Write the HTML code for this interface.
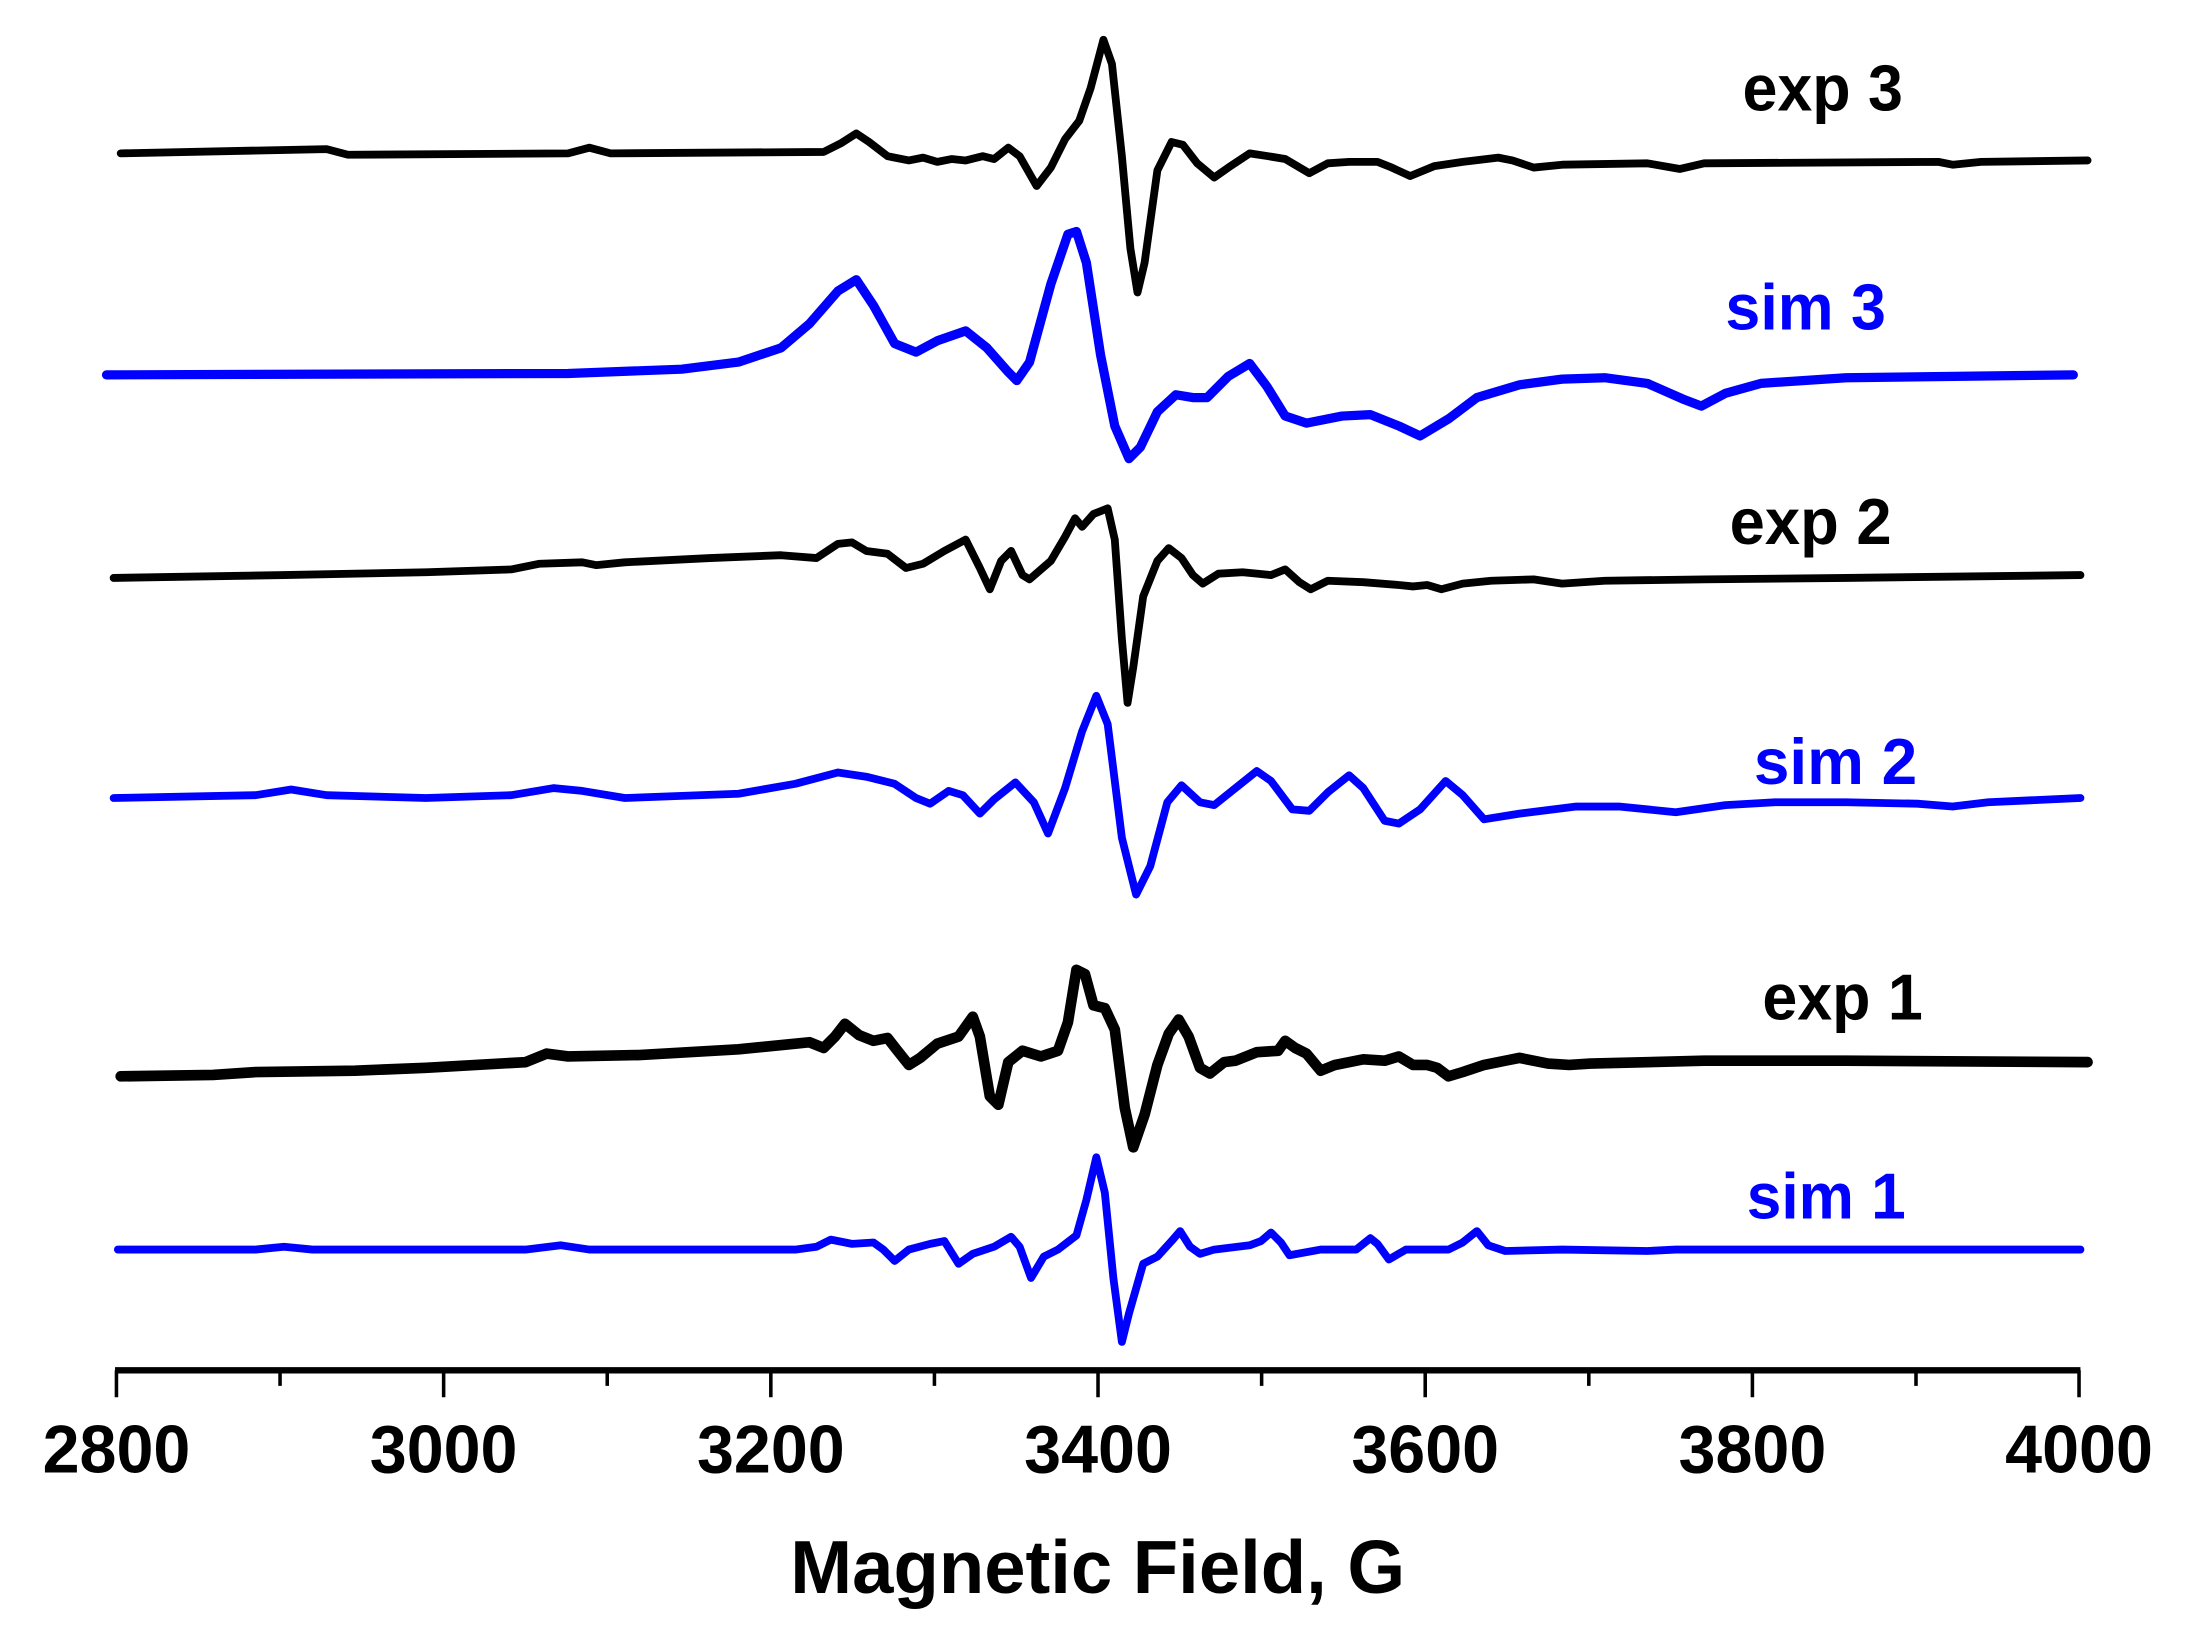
<!DOCTYPE html>
<html><head><style>html,body{margin:0;padding:0;background:#fff}svg{display:block}</style></head>
<body>
<svg width="2204" height="1650" viewBox="0 0 1552 1162" preserveAspectRatio="none" xmlns="http://www.w3.org/2000/svg">
<rect width="1552" height="1162" fill="#fff"/>
<g fill="none" stroke-linejoin="round" stroke-linecap="round">
<polyline stroke="#000" stroke-width="5.5" points="85,108 230,105 245,109 400,108 415,104 430,108 580,107 592,101 603,94 612,100 625,110 640,113 650,111 660,114 670,112 680,113 692,110 700,112 710,104 718,110 730,131 740,118 750,98 760,85 768,62 777,28 783,45 790,110 796,175 801,206 806,185 815,120 825,100 833,102 843,115 855,125 865,118 880,108 893,110 905,112 922,122 935,115 950,114 970,114 980,118 993,124 1010,117 1030,114 1055,111 1065,113 1080,118 1100,116 1160,115 1183,119 1200,115 1365,114 1375,116 1395,114 1470,113"/>
<polyline stroke="#0000ff" stroke-width="6.5" points="75,264 400,263 480,260 520,255 550,245 570,228 590,205 603,197 615,215 630,242 645,248 660,240 680,233 695,245 710,262 716,268 725,255 740,200 752,165 758,163 765,185 775,250 785,300 795,323 803,315 815,290 828,278 840,280 850,280 865,265 880,256 892,272 905,293 920,298 945,293 965,292 985,300 1000,307 1020,295 1040,280 1070,271 1100,267 1130,266 1160,270 1185,281 1198,286 1215,277 1240,270 1300,266 1460,264"/>
<polyline stroke="#000" stroke-width="5.5" points="80,407 200,405 300,403 360,401 380,397 410,396 420,398 440,396 500,393 550,391 575,393 590,383 600,382 610,388 625,390 638,400 650,397 665,388 680,380 690,400 697,415 705,395 712,388 720,405 725,408 740,395 750,378 757,365 762,371 770,362 780,358 785,380 790,450 794,495 798,470 805,420 815,395 823,386 832,393 840,405 847,411 858,404 875,403 885,404 895,405 905,401 915,410 923,415 935,409 960,410 985,412 995,413 1005,412 1015,415 1030,411 1050,409 1080,408 1100,411 1130,409 1200,408 1300,407 1465,405"/>
<polyline stroke="#0000ff" stroke-width="5.5" points="80,562 180,560 205,556 230,560 300,562 360,560 390,555 410,557 440,562 520,559 560,552 590,544 610,547 630,552 645,562 655,566 668,557 678,560 690,573 700,563 715,551 728,565 738,587 750,555 762,515 772,490 780,510 790,590 800,630 810,610 822,565 832,553 845,565 855,567 870,555 885,543 895,550 910,570 922,571 935,558 950,546 960,555 975,578 985,580 1000,570 1018,550 1030,560 1045,577 1070,573 1110,568 1140,568 1180,572 1215,567 1250,565 1300,565 1350,566 1375,568 1400,565 1465,562"/>
<polyline stroke="#000" stroke-width="7.5" points="85,758 150,757 180,755 250,754 300,752 370,748 385,742 400,744 450,743 520,739 560,735 570,734 580,738 588,730 595,721 605,729 615,733 625,731 632,740 640,750 648,745 660,735 675,730 685,716 690,730 697,772 703,778 710,748 720,740 733,744 745,740 752,720 758,683 764,686 770,708 778,710 785,725 792,780 798,808 806,785 815,750 823,728 830,718 837,730 845,752 852,756 862,748 870,747 885,741 900,740 905,733 912,738 920,742 930,754 940,750 960,746 975,747 985,744 995,750 1005,750 1012,752 1020,758 1030,755 1045,750 1060,747 1070,745 1090,749 1105,750 1120,749 1200,747 1300,747 1470,748"/>
<polyline stroke="#0000ff" stroke-width="5.5" points="83,880 180,880 200,878 220,880 370,880 395,877 415,880 560,880 575,878 585,873 600,876 615,875 622,880 630,888 640,880 655,876 665,874 675,890 685,883 700,878 712,871 718,878 726,900 735,885 745,880 758,870 765,845 772,815 778,840 784,900 790,945 795,925 805,890 815,885 825,874 831,867 838,878 845,883 855,880 880,877 888,874 895,868 902,875 908,884 930,880 955,880 965,872 970,876 978,887 990,880 1020,880 1030,875 1040,867 1048,877 1060,881 1100,880 1160,881 1180,880 1465,880"/>
</g>
<g stroke="#000">
<line x1="81" y1="965" x2="1465" y2="965" stroke-width="4.5"/>
<g stroke-width="2.5">
<line x1="82" y1="965" x2="82" y2="984"/><line x1="197.2" y1="965" x2="197.2" y2="976"/>
<line x1="312.4" y1="965" x2="312.4" y2="984"/><line x1="427.6" y1="965" x2="427.6" y2="976"/>
<line x1="542.8" y1="965" x2="542.8" y2="984"/><line x1="658" y1="965" x2="658" y2="976"/>
<line x1="773.2" y1="965" x2="773.2" y2="984"/><line x1="888.4" y1="965" x2="888.4" y2="976"/>
<line x1="1003.6" y1="965" x2="1003.6" y2="984"/><line x1="1118.8" y1="965" x2="1118.8" y2="976"/>
<line x1="1234" y1="965" x2="1234" y2="984"/><line x1="1349.2" y1="965" x2="1349.2" y2="976"/>
<line x1="1464" y1="965" x2="1464" y2="984"/>
</g></g>
<g font-family="Liberation Sans, sans-serif" font-weight="bold" font-size="48" text-anchor="middle" fill="#000" lengthAdjust="spacingAndGlyphs">
<text x="82" y="1037" textLength="104" lengthAdjust="spacingAndGlyphs">2800</text>
<text x="312.4" y="1037" textLength="104" lengthAdjust="spacingAndGlyphs">3000</text>
<text x="542.8" y="1037" textLength="104" lengthAdjust="spacingAndGlyphs">3200</text>
<text x="773.2" y="1037" textLength="104" lengthAdjust="spacingAndGlyphs">3400</text>
<text x="1003.6" y="1037" textLength="104" lengthAdjust="spacingAndGlyphs">3600</text>
<text x="1234" y="1037" textLength="104" lengthAdjust="spacingAndGlyphs">3800</text>
<text x="1464" y="1037" textLength="104" lengthAdjust="spacingAndGlyphs">4000</text>
<text x="773" y="1122" font-size="53" textLength="433" lengthAdjust="spacingAndGlyphs">Magnetic Field, G</text>
</g>
<g font-family="Liberation Sans, sans-serif" font-weight="bold" font-size="46">
<text x="1227" y="78" fill="#000" textLength="113" lengthAdjust="spacingAndGlyphs">exp 3</text>
<text x="1215" y="232" fill="#0000ff" textLength="113" lengthAdjust="spacingAndGlyphs">sim 3</text>
<text x="1218" y="383" fill="#000" textLength="114" lengthAdjust="spacingAndGlyphs">exp 2</text>
<text x="1235" y="552" fill="#0000ff" textLength="115" lengthAdjust="spacingAndGlyphs">sim 2</text>
<text x="1241" y="718" fill="#000" textLength="113" lengthAdjust="spacingAndGlyphs">exp 1</text>
<text x="1230" y="858" fill="#0000ff" textLength="112" lengthAdjust="spacingAndGlyphs">sim 1</text>
</g>
</svg>
</body></html>
